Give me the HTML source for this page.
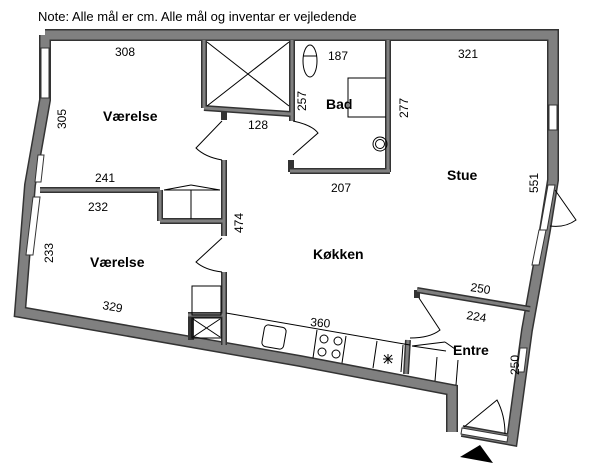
<!DOCTYPE html>
<html><head><meta charset="utf-8"><style>
html,body{margin:0;padding:0;background:#fff}
svg{display:block}
text{font-family:"Liberation Sans",sans-serif;fill:#000}
.d{font-size:12px}
.r{font-size:14px;font-weight:bold}
</style></head><body>
<svg width="600" height="476" viewBox="0 0 600 476">
<text x="38" y="21" style="font-size:13px">Note: Alle mål er cm. Alle mål og inventar er vejledende</text>
<g fill="none" stroke-linejoin="miter">
<g stroke="#333" stroke-width="12">
<polyline points="45,35 553,35 553,180 545,230 527,330 512,440 462,431"/>
<polyline points="452,432 452,390 300,361 20,312 30,185 45,100 45,35"/>
</g>
<g stroke="#808080" stroke-width="9">
<polyline points="45,35 553,35 553,180 545,230 527,330 512,440 462,431"/>
<polyline points="452,432 452,390 300,361 20,312 30,185 45,100 45,35"/>
</g>
<g stroke="#333" stroke-width="6">
<line x1="204" y1="40" x2="204" y2="108"/><line x1="204" y1="108" x2="291" y2="114"/>
<line x1="292" y1="40" x2="292" y2="121"/>
<line x1="388" y1="40" x2="388" y2="172"/><line x1="290" y1="171" x2="390" y2="171"/><line x1="291" y1="160" x2="291" y2="172"/>
<line x1="224" y1="108" x2="224" y2="120"/><line x1="224" y1="160" x2="224" y2="236"/><line x1="224" y1="272" x2="224" y2="345"/>
<line x1="40" y1="190" x2="160" y2="190"/><line x1="160" y1="190" x2="160" y2="221"/><line x1="160" y1="221" x2="224" y2="221"/>
<line x1="191" y1="315" x2="191" y2="340"/><line x1="188" y1="315" x2="224" y2="315"/>
<line x1="408" y1="340" x2="406" y2="374"/>
<line x1="417" y1="290" x2="530" y2="309"/><line x1="417" y1="290" x2="417" y2="298"/>
</g>
<g stroke="#808080" stroke-width="3">
<line x1="204" y1="40" x2="204" y2="108"/><line x1="204" y1="108" x2="291" y2="114"/>
<line x1="292" y1="40" x2="292" y2="121"/>
<line x1="388" y1="40" x2="388" y2="172"/><line x1="290" y1="171" x2="390" y2="171"/>
<line x1="224" y1="160" x2="224" y2="236"/><line x1="224" y1="272" x2="224" y2="345"/>
<line x1="40" y1="190" x2="160" y2="190"/><line x1="160" y1="190" x2="160" y2="221"/><line x1="160" y1="221" x2="224" y2="221"/>
<line x1="188" y1="315" x2="224" y2="315"/><line x1="408" y1="340" x2="406" y2="374"/>
<line x1="417" y1="290" x2="530" y2="309"/>
</g>
<g stroke="#333" stroke-width="1" fill="#fff">
<rect x="41" y="48" width="8" height="50"/>
<polygon points="38,155 44,155 41,182 35,182"/>
<polygon points="33,197 40,197 33,255 26,255"/>
<rect x="549" y="105" width="8" height="25"/>
<polygon points="548,185 555,185 547,230 540,230"/>
<polygon points="539,230 546,230 539,265 532,265"/>
<polygon points="520,348 527,348 524,372 517,372"/>
<polygon points="462,428 508,436 507,442 461,434"/>
</g>
<g stroke="#000" stroke-width="1">
<line x1="207" y1="42" x2="289" y2="106"/><line x1="289" y1="42" x2="207" y2="106"/>
<rect x="192" y="318" width="29" height="20"/><line x1="193" y1="319" x2="220" y2="337"/><line x1="220" y1="319" x2="193" y2="337"/>
<rect x="192" y="286" width="29" height="29"/>
<line x1="164" y1="190" x2="220" y2="190"/><line x1="191" y1="190" x2="191" y2="219"/><line x1="164" y1="190" x2="191" y2="185"/><line x1="220" y1="190" x2="191" y2="185"/>
<ellipse cx="310" cy="61" rx="7" ry="16"/><line x1="303" y1="56" x2="317" y2="56"/>
<polyline points="386,78 348,78 348,117 386,117"/>
<circle cx="380" cy="144" r="7"/><circle cx="380" cy="144" r="4.5"/>
<path d="M222,121 L196,148 Q205,157 222,160"/>
<path d="M222,238 L196,262 Q205,270 222,272"/>
<path d="M293,121 Q312,125 318,133 L293,155"/>
<path d="M555,190 L576,220 Q565,228 550,226"/>
<path d="M419,298 L440,330 Q430,338 410,338"/>
<path d="M464,427 L497,400 Q505,415 505,434"/>
<polyline points="226,313 410,345"/>
<rect x="263" y="326" width="22" height="22" rx="4" transform="rotate(10 274 337)"/>
<line x1="317" y1="330" x2="313" y2="358"/><line x1="346" y1="336" x2="342" y2="363"/><line x1="377" y1="341" x2="373" y2="368"/><line x1="403" y1="345" x2="401" y2="372"/>
<circle cx="324" cy="339" r="4"/><circle cx="338" cy="341" r="4"/><circle cx="322" cy="352" r="4"/><circle cx="336" cy="354" r="4"/>
<path d="M388,354 L388,364 M383,359 L393,359 M384,355 L392,363 M392,355 L384,363"/>
<line x1="412" y1="346" x2="446" y2="351"/><line x1="437" y1="357" x2="435" y2="381"/><line x1="458" y1="360" x2="456" y2="385"/>
<line x1="412" y1="346" x2="445" y2="342"/><line x1="445" y1="342" x2="455" y2="349"/>
</g>
</g>
<polygon points="460,457 480,445 493,463" fill="#000"/>
<text class="d" x="115" y="56">308</text>
<text class="d" transform="translate(66,129) rotate(-90)">305</text>
<text class="r" x="103" y="121">Værelse</text>
<text class="d" x="248" y="129">128</text>
<text class="d" x="328" y="60">187</text>
<text class="d" transform="translate(306,111) rotate(-90)">257</text>
<text class="r" x="326" y="109">Bad</text>
<text class="d" transform="translate(408,118) rotate(-90)">277</text>
<text class="d" x="458" y="58">321</text>
<text class="r" x="447" y="180">Stue</text>
<text class="d" transform="translate(538,193) rotate(-90)">551</text>
<text class="d" x="331" y="192">207</text>
<text class="d" x="95" y="182">241</text>
<text class="d" x="88" y="211">232</text>
<text class="d" transform="translate(243,233) rotate(-90)">474</text>
<text class="d" transform="translate(53,263) rotate(-90)">233</text>
<text class="r" x="90" y="267">Værelse</text>
<text class="r" x="313" y="259">Køkken</text>
<text class="d" transform="translate(102,309) rotate(10)">329</text>
<text class="d" transform="translate(310,326) rotate(5)">360</text>
<text class="d" transform="translate(470,291) rotate(9)">250</text>
<text class="d" transform="translate(466,319) rotate(9)">224</text>
<text class="r" x="453" y="355">Entre</text>
<text class="d" transform="translate(519,375) rotate(-90)">250</text>
</svg>
</body></html>
